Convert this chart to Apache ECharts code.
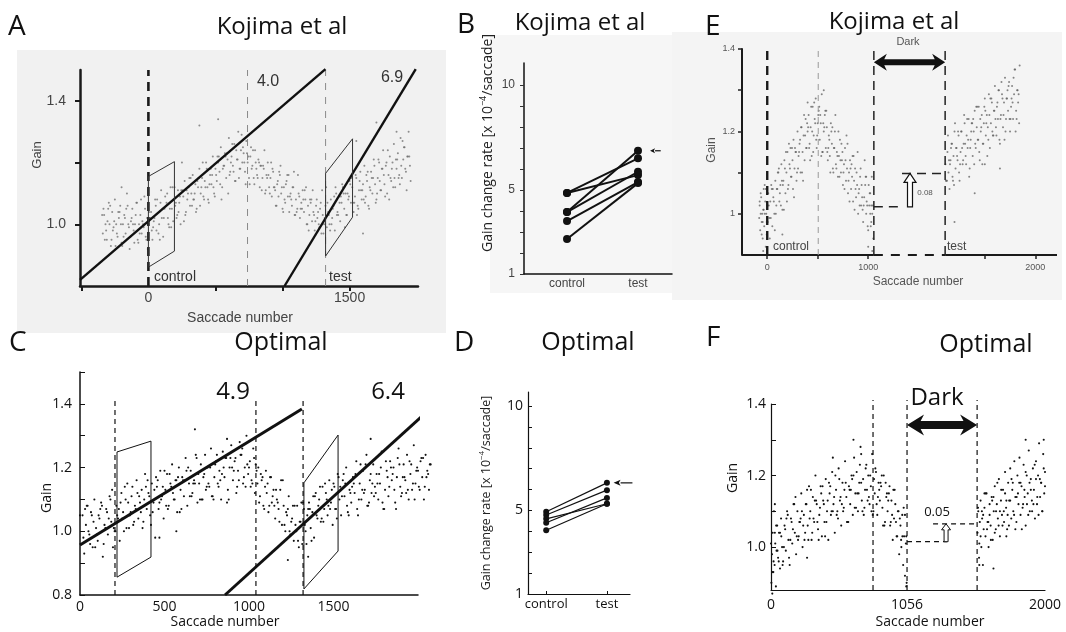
<!DOCTYPE html>
<html><head><meta charset="utf-8">
<script src="https://cdn.jsdelivr.net/npm/echarts@6/dist/echarts.min.js"></script>
<style>html,body{margin:0;padding:0;background:#fff}#c{width:1066px;height:632px}</style>
</head><body><div id="c"></div>
<script>
// ---------------- DATA ----------------
// Panel A (Kojima et al): gain vs saccade number
const A_DOTS = [
[-340,0.97],[-330,1.03],[-320,1.0],[-310,0.95],[-300,1.05],[-290,1.0],[-280,0.93],[-270,1.04],[-260,0.99],[-250,1.08],
[-240,1.0],[-230,0.96],[-220,1.02],[-210,1.06],[-200,0.94],[-190,1.0],[-180,1.03],[-170,0.97],[-160,1.1],[-150,1.0],
[-140,0.92],[-130,1.01],[-120,1.05],[-110,0.98],[-100,1.0],[-90,1.07],[-80,0.95],[-70,1.0],[-60,1.03],[-50,0.97],
[-40,1.0],[-30,1.09],[-20,0.96],[-10,1.02],[0,1.0],[20,1.04],[30,0.95],[40,1.01],[50,1.08],[60,0.98],
[80,1.0],[90,1.07],[100,1.02],[110,0.96],[120,1.05],[140,1.1],[150,1.0],[160,1.05],[170,0.99],[180,1.12],
[200,1.06],[210,1.02],[220,1.11],[230,1.07],[240,1.0],[260,1.09],[270,1.14],[280,1.04],[290,1.08],[300,1.12],
[310,1.06],[320,1.1],[330,1.16],[340,1.08],[350,1.13],[360,1.05],[370,1.12],[380,1.18],[390,1.1],[400,1.15],
[410,1.09],[420,1.14],[430,1.2],[440,1.12],[450,1.07],[460,1.16],[470,1.13],[480,1.22],[490,1.1],[500,1.18],
[510,1.14],[520,1.2],[530,1.17],[540,1.25],[550,1.12],[560,1.19],[570,1.23],[580,1.15],[590,1.21],[600,1.28],
[610,1.17],[620,1.22],[630,1.19],[640,1.26],[650,1.14],[660,1.21],[670,1.3],[680,1.18],[690,1.24],[700,1.2],
[380,1.32],[250,1.2],[-200,1.12],[520,1.34],
[710,1.23],[720,1.17],[730,1.27],[740,1.2],[750,1.15],[760,1.22],[770,1.18],[780,1.24],[790,1.13],[800,1.2],
[810,1.16],[820,1.21],[830,1.12],[840,1.19],[850,1.15],[860,1.18],[870,1.1],[880,1.16],[890,1.2],[900,1.12],
[910,1.15],[920,1.09],[930,1.17],[940,1.12],[950,1.06],[960,1.13],[970,1.09],[980,1.16],[990,1.1],[1000,1.05],
[1010,1.12],[1020,1.07],[1030,1.14],[1040,1.09],[1050,1.04],[1060,1.1],[1070,1.06],[1080,1.12],[1090,1.03],[1100,1.08],
[1110,1.05],[1120,1.1],[1130,1.02],[1140,1.07],[1150,1.11],[1160,1.04],[1170,1.08],[1180,1.0],[1190,1.06],[1200,1.03],
[1210,1.07],[1220,1.01],[1230,1.04],[1240,0.98],[1250,1.06],[1260,1.02],[1270,1.0],[1280,1.05],[1290,0.97],[1300,1.03],
[1310,1.0],[1320,1.06],[1330,0.99],[1340,1.04],[1350,1.0],[1360,1.08],[1370,1.02],[1380,1.06],[1390,0.98],[1400,1.1],
[1410,1.04],[1420,1.09],[1430,1.01],[1440,1.07],[1450,1.12],[1460,1.05],[1470,1.1],[1480,1.03],[1490,1.08],[1500,1.14],
[1510,1.07],[1520,1.12],[1530,1.04],[1540,1.09],[1550,1.15],[1560,1.06],[1570,1.11],[1580,1.17],[1590,1.08],[1600,1.13],
[1610,1.19],[1620,1.09],[1630,1.14],[1640,1.06],[1650,1.12],[1660,1.17],[1670,1.1],[1680,1.21],[1690,1.13],[1700,1.08],
[1710,1.15],[1720,1.2],[1730,1.11],[1740,1.18],[1750,1.24],[1760,1.13],[1770,1.19],[1780,1.1],[1790,1.16],[1800,1.22],
[1810,1.14],[1820,1.2],[1830,1.26],[1840,1.12],[1850,1.18],[1860,1.23],[1870,1.16],[1880,1.28],[1890,1.15],[1900,1.21],
[1910,1.25],[1920,1.17],[1930,1.22],[1940,1.3],[1950,1.19],[1700,1.33],[1850,1.3],[1600,0.97],[1550,1.27]
];
const A_DOTS2 = [
[-345,1.03],[-325,0.95],[-305,1.01],[-285,1.06],[-265,0.98],[-245,0.93],[-225,1.04],[-205,1.0],[-185,0.96],[-165,1.05],
[-145,0.99],[-125,1.02],[-105,0.94],[-85,1.07],[-65,0.97],[-45,1.01],[-25,1.05],[-5,0.92],[15,1.02],[35,0.99],
[55,1.06],[75,0.97],[95,1.11],[115,1.02],[135,1.07],[155,0.99],[175,1.05],[195,1.12],[215,1.03],[235,1.09],
[255,1.11],[275,1.03],[295,1.1],[315,1.15],[335,1.08],[355,1.04],[375,1.15],[395,1.12],[415,1.08],[435,1.18],
[455,1.13],[475,1.16],[495,1.09],[515,1.22],[535,1.13],[555,1.18],[575,1.22],[595,1.1],[615,1.2],[635,1.17],
[655,1.24],[675,1.15],[695,1.29],[715,1.2],[735,1.23],[755,1.13],[775,1.19],[795,1.24],[815,1.15],[835,1.19],
[855,1.19],[875,1.11],[895,1.16],[915,1.2],[935,1.12],[955,1.06],[975,1.17],[995,1.12],[1015,1.08],[1035,1.16],
[1055,1.09],[1075,1.12],[1095,1.03],[1115,1.16],[1135,1.05],[1155,1.08],[1175,1.12],[1195,0.98],[1215,1.08],[1235,1.03],
[1255,1.08],[1275,0.99],[1295,1.11],[1315,1.02],[1335,1.07],[1355,0.98],[1375,1.05],[1395,1.12],[1415,1.03],[1435,1.09],
[1455,1.1],[1475,1.03],[1495,1.09],[1515,1.15],[1535,1.07],[1555,1.03],[1575,1.14],[1595,1.11],[1615,1.07],[1635,1.17],
[1655,1.11],[1675,1.15],[1695,1.07],[1715,1.21],[1735,1.11],[1755,1.16],[1775,1.2],[1795,1.08],[1815,1.18],[1835,1.15],
[1855,1.21],[1875,1.13],[1895,1.27],[1915,1.18],[1935,1.22],[1955,1.14]
];
const A_DOTS3 = [
[-335,1.05],[-315,0.98],[-295,1.07],[-275,0.95],[-255,1.01],[-235,0.97],[-215,1.04],[-195,0.93],[-175,1.02],[-155,1.06],
[-135,0.96],[-115,1.0],[-95,1.03],[-75,0.94],[-55,1.08],[-35,0.99],[-15,0.95],[5,1.04],[25,0.98],[45,1.02],
[65,1.08],[85,0.95],[105,1.05],[125,1.09],[145,1.02],[165,1.12],[185,1.01],[205,1.07],[225,1.04],[245,1.11],
[265,1.01],[285,1.11],[305,1.15],[325,1.06],[345,1.1],[365,1.14],[385,1.06],[405,1.2],[425,1.12],[445,1.08],
[465,1.18],[485,1.12],[505,1.16],[525,1.22],[545,1.08],[565,1.19],[585,1.23],[605,1.16],[625,1.26],[645,1.14],
[665,1.21],[685,1.18],[705,1.25],[725,1.13],[745,1.22],[765,1.25],[785,1.15],[805,1.18],[825,1.2],[845,1.11],
[865,1.24],[885,1.15],[905,1.1],[925,1.18],[945,1.11],[965,1.14],[985,1.19],[1005,1.04],[1025,1.13],[1045,1.16],
[1065,1.08],[1085,1.17],[1105,1.04],[1125,1.09],[1145,1.05],[1165,1.11],[1185,1.0],[1205,1.08],[1225,1.11],[1245,1.01],
[1265,1.04],[1285,1.07],[1305,0.97],[1325,1.12],[1345,1.03],[1365,1.0],[1385,1.09],[1405,1.03],[1425,1.07],[1445,1.13],
[1465,0.99],[1485,1.1],[1505,1.13],[1525,1.07],[1545,1.16],[1565,1.05],[1585,1.11],[1605,1.08],[1625,1.16],[1645,1.05],
[1665,1.15],[1685,1.19],[1705,1.1],[1725,1.14],[1745,1.18],[1765,1.09],[1785,1.24],[1805,1.15],[1825,1.12],[1845,1.21],
[1865,1.15],[1885,1.19],[1905,1.25],[1925,1.11],[1945,1.22]
];
const A_FIT_LINES = [[[-510,0.82],[1320,1.503]], [[1015,0.8],[1993,1.503]]];
const A_BOXES = [[[0,0.861],[0,1.155],[194,1.203],[194,0.913],[0,0.861]],
                 [[1321,0.897],[1321,1.165],[1522,1.277],[1522,1.023],[1321,0.897]]];
const A_THIN_DASH = [739, 1321];
const A_X_LABELS = [0, 1500];
const A_Y_LABELS = [1.0, 1.4];

// Panel B (Kojima et al): gain change rate, control vs test
const B_CONTROL = [4.86, 4.86, 3.95, 3.95, 3.52, 2.67];
const B_TEST    = [6.51, 5.71, 6.87, 5.87, 5.38, 5.33];
const B_Y_LABELS = [1, 5, 10];
const CATS = ['control', 'test'];

// Panel C (Optimal)
const C_DOTS = [
[5,0.96],[15,1.05],[25,0.93],[35,1.02],[45,1.08],[55,0.99],[65,1.06],[75,0.95],[85,1.1],[95,1.01],
[105,0.97],[115,1.04],[125,1.09],[135,0.92],[145,1.02],[155,1.07],[165,0.99],[175,1.11],[185,1.03],[195,0.95],
[205,1.0],[215,1.08],[225,1.04],[235,0.97],[245,1.12],[255,1.06],[265,1.14],[275,1.01],[285,1.09],[295,1.05],
[305,1.11],[315,1.02],[325,1.08],[335,1.16],[345,1.04],[355,1.09],[365,1.13],[375,1.03],[385,1.18],[395,1.07],
[405,1.12],[415,1.05],[425,1.15],[435,1.09],[445,0.98],[455,1.14],[465,1.07],[475,1.19],[485,1.11],[495,1.04],
[505,1.13],[515,1.18],[525,1.08],[535,1.15],[545,1.21],[555,1.1],[565,1.16],[575,1.06],[585,1.2],[595,1.13],
[605,1.17],[615,1.11],[625,1.23],[635,1.08],[645,1.15],[655,1.19],[665,1.12],[675,1.16],[685,1.24],[695,1.09],
[705,1.15],[715,1.21],[725,1.1],[735,1.18],[745,1.13],[755,1.2],[765,1.14],[775,1.26],[785,1.11],[795,1.17],
[805,1.22],[815,1.15],[825,1.19],[835,1.1],[845,1.25],[855,1.17],[865,1.23],[875,1.13],[885,1.2],[895,1.27],
[905,1.16],[915,1.22],[925,1.12],[935,1.19],[945,1.28],[955,1.24],[965,1.15],[975,1.2],[985,1.3],[995,1.18],
[1005,1.22],[1015,1.16],[1025,1.26],[1035,1.12],[1045,1.19],[1055,1.2],[1065,1.11],[1075,1.16],[1085,1.08],[1095,1.14],
[1105,1.12],[1115,1.06],[1125,1.17],[1135,1.09],[1145,1.13],[1155,1.04],[1165,1.1],[1175,1.07],[1185,1.13],[1195,1.02],
[1205,1.08],[1215,1.0],[1225,1.05],[1235,1.11],[1245,0.99],[1255,1.04],[1265,0.97],[1275,1.02],[1285,1.08],[1295,0.95],
[1305,1.03],[1315,0.96],[1325,1.07],[1335,1.0],[1345,1.05],[1355,1.09],[1365,1.01],[1375,1.06],[1385,0.98],[1395,1.12],
[1405,1.04],[1415,1.1],[1425,1.03],[1435,1.14],[1445,1.07],[1455,1.12],[1465,1.05],[1475,1.16],[1485,1.09],[1495,1.02],
[1505,1.14],[1515,1.07],[1525,1.18],[1535,1.1],[1545,1.05],[1555,1.16],[1565,1.11],[1575,1.2],[1585,1.06],[1595,1.13],
[1605,1.09],[1615,1.17],[1625,1.12],[1635,1.22],[1645,1.05],[1655,1.15],[1665,1.1],[1675,1.19],[1685,1.13],[1695,1.24],
[1705,1.08],[1715,1.16],[1725,1.12],[1735,1.21],[1745,1.14],[1755,1.18],[1765,1.1],[1775,1.15],[1785,1.25],[1795,1.07],
[1805,1.13],[1815,1.19],[1825,1.11],[1835,1.22],[1845,1.16],[1855,1.2],[1865,1.09],[1875,1.17],[1885,1.26],[1895,1.14],
[1905,1.12],[1915,1.21],[1925,1.16],[1935,1.24],[1945,1.1],[1955,1.18],[1965,1.13],[1975,1.27],[1985,1.15],[1995,1.2],
[2005,1.14],[2015,1.22],[2025,1.17],[2035,1.1],[2045,1.24],[2055,1.19],[2065,1.13],[2075,1.21],
[680,1.32],[870,1.29],[470,0.98],[570,1.0],[1230,0.91],[1350,0.92],[1720,1.29]
];
const C_DOTS2 = [
[10,0.96],[30,1.07],[50,1.0],[70,1.05],[90,0.95],[110,1.05],[130,1.08],[150,1.01],[170,1.04],[190,1.13],
[210,1.0],[230,1.07],[250,1.04],[270,1.1],[290,1.01],[310,1.14],[330,1.07],[350,1.11],[370,1.01],[390,1.14],
[410,1.11],[430,1.06],[450,1.17],[470,1.09],[490,1.14],[510,1.08],[530,1.18],[550,1.12],[570,1.16],[590,1.06],
[610,1.16],[630,1.19],[650,1.11],[670,1.15],[690,1.23],[710,1.1],[730,1.17],[750,1.14],[770,1.2],[790,1.1],
[810,1.24],[830,1.16],[850,1.2],[870,1.09],[890,1.23],[910,1.19],[930,1.14],[950,1.24],[970,1.17],[990,1.21],
[1010,1.14],[1030,1.23],[1050,1.15],[1070,1.18],[1090,1.07],[1110,1.15],[1130,1.17],[1150,1.08],[1170,1.09],[1190,1.16],
[1210,1.02],[1230,1.07],[1250,1.03],[1270,1.08],[1290,0.97],[1310,1.09],[1330,1.02],[1350,1.07],[1370,0.97],[1390,1.11],
[1410,1.08],[1430,1.04],[1450,1.15],[1470,1.08],[1490,1.13],[1510,1.07],[1530,1.17],[1550,1.11],[1570,1.15],[1590,1.05],
[1610,1.14],[1630,1.18],[1650,1.1],[1670,1.13],[1690,1.21],[1710,1.09],[1730,1.15],[1750,1.12],[1770,1.18],[1790,1.09],
[1810,1.22],[1830,1.14],[1850,1.18],[1870,1.07],[1890,1.21],[1910,1.17],[1930,1.12],[1950,1.22],[1970,1.15],[1990,1.19],
[2010,1.13],[2030,1.23],[2050,1.17],[2070,1.21]
];
const C_DOTS3 = [
[0,1.05],[20,0.98],[40,1.08],[60,0.96],[80,1.03],[100,0.99],[120,1.07],[140,0.96],[160,1.06],[180,1.1],
[200,1.01],[220,1.05],[240,1.09],[260,1.0],[280,1.15],[300,1.06],[320,1.03],[340,1.12],[360,1.06],[380,1.1],
[400,1.16],[420,1.02],[440,1.13],[460,1.16],[480,1.1],[500,1.19],[520,1.07],[540,1.14],[560,1.1],[580,1.17],
[600,1.07],[620,1.16],[640,1.2],[660,1.11],[680,1.15],[700,1.18],[720,1.1],[740,1.24],[760,1.15],[780,1.11],
[800,1.21],[820,1.14],[840,1.18],[860,1.23],[880,1.1],[900,1.2],[920,1.23],[940,1.16],[960,1.26],[980,1.14],
[1000,1.2],[1020,1.15],[1040,1.21],[1060,1.09],[1080,1.17],[1100,1.19],[1120,1.08],[1140,1.11],[1160,1.13],[1180,1.03],
[1200,1.16],[1220,1.06],[1240,1.0],[1260,1.08],[1280,1.0],[1300,1.03],[1320,1.09],[1340,0.96],[1360,1.07],[1380,1.11],
[1400,1.05],[1420,1.14],[1440,1.03],[1460,1.1],[1480,1.07],[1500,1.15],[1520,1.04],[1540,1.14],[1560,1.18],[1580,1.08],
[1600,1.12],[1620,1.15],[1640,1.07],[1660,1.21],[1680,1.12],[1700,1.08],[1720,1.18],[1740,1.11],[1760,1.15],[1780,1.2],
[1800,1.07],[1820,1.17],[1840,1.2],[1860,1.13],[1880,1.23],[1900,1.11],[1920,1.17],[1940,1.13],[1960,1.21],[1980,1.1],
[2000,1.19],[2020,1.23],[2040,1.14],[2060,1.18]
];
const C_FIT_LINES = [[[0,0.957],[1313,1.384]], [[858,0.8],[2071,1.384]]];
const C_BOXES = [[[219,0.856],[219,1.249],[420,1.283],[420,0.919],[219,0.856]],
                 [[1325,0.819],[1325,1.152],[1527,1.302],[1527,0.938],[1325,0.819]]];
const C_DASH = [207, 1041, 1320];
const C_X_LABELS = [0, 500, 1000, 1500];
const C_Y_LABELS = [0.8, 1.0, 1.2, 1.4];

// Panel D (Optimal)
const D_CONTROL = [4.94, 4.78, 4.60, 4.41, 4.05];
const D_TEST    = [6.32, 5.97, 5.32, 5.60, 5.32];

// Panel E (Kojima et al) – dark period inserted; post-dark saccades shifted by E_GAP on the plot axis
const E_GAP = 655;
const E_PRE = [
[-80,0.99],[-75,1.02],[-70,0.96],[-65,1.0],[-60,1.04],[-55,0.98],[-50,1.0],[-45,0.94],[-40,1.01],[-35,1.06],[-30,0.97],[-25,1.0],[-20,1.03],[-15,0.92],[-10,1.0],[-5,0.98],[0,1.02],
[10,1.05],[20,0.99],[30,1.03],[40,1.07],[50,0.97],[60,1.04],[70,1.0],[80,1.08],[90,1.02],[100,1.06],
[110,1.1],[120,1.03],[130,1.07],[140,1.12],[150,1.01],[160,1.08],[170,1.13],[180,1.05],[190,1.1],[200,1.15],
[210,1.07],[220,1.12],[230,1.16],[240,1.09],[250,1.13],[260,1.18],[270,1.11],[280,1.15],[290,1.08],[300,1.2],
[310,1.14],[320,1.17],[330,1.1],[340,1.21],[350,1.15],[360,1.19],[370,1.13],[380,1.23],[390,1.16],[400,1.2],
[410,1.24],[420,1.17],[430,1.21],[440,1.14],[450,1.26],[460,1.19],[470,1.23],[480,1.28],[490,1.16],[500,1.22],
[510,1.25],[520,1.18],[530,1.22],[540,1.29],[550,1.15],[560,1.2],[570,1.24],[580,1.16],[590,1.21],[600,1.13],
[610,1.19],[620,1.14],[630,1.22],[640,1.17],[650,1.11],[660,1.16],[670,1.2],[680,1.12],[690,1.15],[700,1.09],
[710,1.14],[720,1.18],[730,1.1],[740,1.13],[750,1.07],[760,1.12],[770,1.16],[780,1.08],[790,1.11],[800,1.05],
[810,1.1],[820,1.13],[830,1.06],[840,1.09],[850,1.03],[860,1.08],[870,1.11],[880,1.04],[890,1.07],[900,1.0],
[910,1.06],[920,1.09],[930,1.02],[940,1.04],[950,0.98],[960,1.04],[970,1.07],[980,1.0],[990,1.02],[1000,0.96],
[1010,1.02],[1020,1.05],[1030,0.98],[1040,1.0],[1050,0.94],
[1000,0.92],[1040,0.91],[560,1.3],[400,1.27],[980,1.09],[150,0.95],[-40,0.91],[1030,1.02],[1020,1.0],
[-75,1.03],[-55,0.95],[-35,1.01],[-15,1.06],[5,0.98],[25,0.94],[45,1.06],[65,1.03],[85,1.0],[105,1.1],
[125,1.05],[145,1.08],[165,1.01],[185,1.15],[205,1.06],[225,1.11],[245,1.16],[265,1.04],[285,1.15],[305,1.11],
[325,1.18],[345,1.1],[365,1.24],[385,1.16],[405,1.21],[425,1.13],[445,1.2],[465,1.27],[485,1.18],[505,1.24],
[525,1.24],[545,1.15],[565,1.21],[585,1.25],[605,1.16],[625,1.1],[645,1.21],[665,1.16],[685,1.11],[705,1.2],
[725,1.13],[745,1.15],[765,1.06],[785,1.19],[805,1.08],[825,1.11],[845,1.14],[865,1.01],[885,1.1],[905,1.05],
[925,1.11],[945,1.01],[965,1.13],[985,1.03],[1005,1.07],[1025,0.97],[1045,1.02],
[-65,1.05],[-45,0.98],[-25,1.07],[-5,0.95],[15,1.02],[35,0.99],[55,1.06],[75,0.96],[95,1.06],[115,1.11],
[135,1.02],[155,1.07],[175,1.11],[195,1.03],[215,1.17],[235,1.09],[255,1.06],[275,1.16],[295,1.1],[315,1.15],
[335,1.21],[355,1.08],[375,1.19],[395,1.22],[415,1.16],[435,1.26],[455,1.15],[475,1.22],[495,1.19],[515,1.26],
[535,1.14],[555,1.22],[575,1.25],[595,1.15],[615,1.18],[635,1.2],[655,1.1],[675,1.24],[695,1.14],[715,1.09],
[735,1.17],[755,1.1],[775,1.13],[795,1.17],[815,1.03],[835,1.12],[855,1.14],[875,1.06],[895,1.15],[915,1.02],
[935,1.07],[955,1.02],[975,1.09],[995,0.97],[1015,1.05],[1035,1.09]
];
const E_POST = [
[1110,1.12],[1120,1.08],[1130,1.15],[1140,1.1],[1150,1.06],[1160,1.13],[1170,1.17],[1180,1.09],[1190,1.14],[1200,1.2],
[1210,1.11],[1220,1.16],[1230,1.13],[1240,1.19],[1250,1.08],[1260,1.15],[1270,1.2],[1280,1.12],[1290,1.17],[1300,1.22],
[1310,1.14],[1320,1.19],[1330,1.16],[1340,1.23],[1350,1.11],[1360,1.18],[1370,1.22],[1380,1.14],[1390,1.2],[1400,1.25],
[1410,1.16],[1420,1.21],[1430,1.18],[1440,1.26],[1450,1.13],[1460,1.2],[1470,1.24],[1480,1.17],[1490,1.22],[1500,1.28],
[1510,1.19],[1520,1.24],[1530,1.21],[1540,1.29],[1550,1.16],[1560,1.22],[1570,1.27],[1580,1.19],[1590,1.25],[1600,1.31],
[1610,1.21],[1620,1.26],[1630,1.23],[1640,1.3],[1650,1.17],[1660,1.24],[1670,1.29],[1680,1.21],[1690,1.27],[1700,1.33],
[1710,1.23],[1720,1.28],[1730,1.25],[1740,1.32],[1750,1.2],[1760,1.26],[1770,1.31],[1780,1.23],[1790,1.29],[1800,1.35],
[1810,1.25],[1820,1.3],[1830,1.27],[1840,1.22],[1845,1.36],
[1500,1.12],[1650,1.11],[1400,1.05],[1200,0.98],
[1115,1.08],[1135,1.19],[1155,1.12],[1175,1.17],[1195,1.07],[1215,1.16],[1235,1.2],[1255,1.12],[1275,1.16],[1295,1.24],
[1315,1.12],[1335,1.18],[1355,1.16],[1375,1.22],[1395,1.12],[1415,1.26],[1435,1.18],[1455,1.23],[1475,1.12],[1495,1.26],
[1515,1.22],[1535,1.18],[1555,1.28],[1575,1.2],[1595,1.25],[1615,1.19],[1635,1.3],[1655,1.23],[1675,1.28],[1695,1.18],
[1715,1.28],[1735,1.31],[1755,1.23],[1775,1.27],[1795,1.35],[1815,1.23],[1835,1.29],
[1125,1.08],[1145,1.13],[1165,1.16],[1185,1.08],[1205,1.22],[1225,1.14],[1245,1.1],[1265,1.2],[1285,1.13],[1305,1.17],
[1325,1.23],[1345,1.09],[1365,1.2],[1385,1.23],[1405,1.17],[1425,1.26],[1445,1.15],[1465,1.21],[1485,1.17],[1505,1.25],
[1525,1.14],[1545,1.24],[1565,1.28],[1585,1.19],[1605,1.23],[1625,1.27],[1645,1.18],[1665,1.32],[1685,1.24],[1705,1.2],
[1725,1.3],[1745,1.23],[1765,1.28],[1785,1.33],[1805,1.2],[1825,1.3]
];
const E_DARK = [1056, 1107 + E_GAP];   // plot positions of dark-period borders
const E_X_LABELS = [0, 1000, 2000];
const E_Y_LABELS = [1, 1.2, 1.4];

// Panel F (Optimal) – post-dark saccades shifted by F_GAP on the plot axis
const F_GAP = 127;
const F_PRE = [
[3,0.9],[8,0.98],[13,1.04],[18,0.93],[23,1.1],[28,0.95],[33,1.01],[38,0.89],[43,0.99],[48,1.06],
[55,0.97],[62,1.04],[70,0.94],[78,1.08],[86,1.0],[94,0.96],[105,1.06],[115,0.99],[125,1.1],[135,1.02],[145,0.95],
[155,1.08],[165,1.01],[175,1.12],[185,1.04],[195,0.98],[205,1.1],[215,1.03],[225,1.07],[235,1.15],[245,1.0],
[255,1.09],[265,1.04],[275,1.12],[285,1.06],[295,1.17],[305,1.1],[315,1.02],[325,1.14],[335,1.07],[345,1.2],
[355,1.12],[365,1.05],[375,1.09],[385,1.17],[395,1.03],[405,1.13],[415,1.07],[425,1.19],[435,1.1],[445,1.02],
[455,1.15],[465,1.09],[475,1.21],[485,1.12],[495,1.04],[505,1.16],[515,1.1],[525,1.22],[535,1.13],[545,1.06],
[555,1.18],[565,1.11],[575,1.24],[585,1.14],[595,1.07],[605,1.17],[615,1.12],[625,1.2],[635,1.09],[645,1.25],
[655,1.15],[665,1.21],[675,1.1],[685,1.18],[695,1.28],[705,1.13],[715,1.19],[725,1.11],[735,1.22],[745,1.16],
[755,1.2],[765,1.12],[775,1.17],[785,1.26],[795,1.1],[805,1.15],[815,1.21],[825,1.09],[835,1.18],[845,1.13],
[855,1.17],[865,1.11],[875,1.2],[885,1.07],[895,1.14],[905,1.1],[915,1.15],[925,1.06],[935,1.13],[945,1.02],
[955,1.08],[965,1.12],[975,1.03],[985,1.1],[995,0.98],[1005,1.06],[1012,1.0],[1019,1.09],[1026,0.95],[1033,1.03],
[1040,0.92],[1047,1.01],[1053,0.9],
[640,1.3],[700,1.26],[10,0.87],[1050,0.89],[30,1.12],[280,0.97],[480,1.25],
[10,0.93],[30,1.04],[50,0.99],[70,1.04],[90,0.95],[110,1.05],[130,1.09],[150,1.02],[170,1.05],[190,1.14],
[210,1.02],[230,1.08],[250,1.06],[270,1.12],[290,1.02],[310,1.16],[330,1.08],[350,1.13],[370,1.02],[390,1.15],
[410,1.12],[430,1.07],[450,1.18],[470,1.1],[490,1.14],[510,1.09],[530,1.19],[550,1.12],[570,1.16],[590,1.07],
[610,1.16],[630,1.19],[650,1.11],[670,1.15],[690,1.23],[710,1.1],[730,1.16],[750,1.13],[770,1.2],[790,1.09],
[810,1.22],[830,1.14],[850,1.18],[870,1.06],[890,1.18],[910,1.13],[930,1.07],[950,1.16],[970,1.07],[990,1.1],
[1010,1.02],[1030,1.11],[1050,1.03],
[0,1.01],[20,0.96],[40,1.06],[60,0.96],[80,1.03],[100,1.0],[120,1.08],[140,0.97],[160,1.07],[180,1.12],
[200,1.03],[220,1.07],[240,1.1],[260,1.02],[280,1.16],[300,1.08],[320,1.04],[340,1.13],[360,1.07],[380,1.11],
[400,1.17],[420,1.03],[440,1.13],[460,1.17],[480,1.1],[500,1.2],[520,1.08],[540,1.14],[560,1.1],[580,1.18],
[600,1.07],[620,1.16],[640,1.2],[660,1.11],[680,1.15],[700,1.18],[720,1.09],[740,1.23],[760,1.14],[780,1.1],
[800,1.19],[820,1.12],[840,1.16],[860,1.2],[880,1.06],[900,1.15],[920,1.17],[940,1.09],[960,1.16],[980,1.03],
[1000,1.08],[1020,1.03],[1040,1.09]
];
const F_POST = [
[1476,1.04],[1482,1.1],[1488,0.97],[1494,1.07],[1500,1.13],[1506,1.0],[1512,1.08],[1518,0.95],[1524,1.05],
[1530,1.11],[1538,1.03],[1546,1.15],[1554,1.07],[1562,1.0],[1570,1.12],[1578,1.06],[1586,1.14],[1594,1.02],[1602,1.1],
[1610,1.17],[1618,1.05],[1626,1.12],[1634,1.08],[1642,1.19],[1650,1.03],[1658,1.13],[1666,1.09],[1674,1.16],[1682,1.07],
[1690,1.21],[1698,1.11],[1706,1.05],[1714,1.18],[1722,1.13],[1730,1.22],[1738,1.08],[1746,1.16],[1754,1.1],[1762,1.24],
[1770,1.14],[1778,1.07],[1786,1.2],[1794,1.12],[1802,1.25],[1810,1.09],[1818,1.17],[1826,1.11],[1834,1.23],[1842,1.14],
[1850,1.06],[1858,1.2],[1866,1.15],[1874,1.27],[1882,1.1],[1890,1.19],[1898,1.13],[1906,1.22],[1914,1.16],[1922,1.08],
[1930,1.24],[1938,1.12],[1946,1.2],[1954,1.29],[1962,1.14],[1970,1.18],[1978,1.1],[1986,1.26],[1994,1.15],[2000,1.21],
[1490,0.95],[1600,0.94],[1850,1.3],[1990,1.3],[1700,1.03],
[1480,1.11],[1500,1.03],[1520,1.09],[1540,1.15],[1560,1.07],[1580,1.02],[1600,1.14],[1620,1.1],[1640,1.06],[1660,1.16],
[1680,1.1],[1700,1.13],[1720,1.06],[1740,1.19],[1760,1.09],[1780,1.14],[1800,1.18],[1820,1.05],[1840,1.16],[1860,1.12],
[1880,1.18],[1900,1.1],[1920,1.23],[1940,1.14],[1960,1.19],[1980,1.1],[2000,1.17],
[1490,1.01],[1510,1.1],[1530,1.15],[1550,1.05],[1570,1.09],[1590,1.13],[1610,1.04],[1630,1.18],[1650,1.1],[1670,1.06],
[1690,1.15],[1710,1.09],[1730,1.13],[1750,1.18],[1770,1.05],[1790,1.15],[1810,1.18],[1830,1.12],[1850,1.21],[1870,1.09],
[1890,1.16],[1910,1.12],[1930,1.19],[1950,1.09],[1970,1.18],[1990,1.22]
];
const F_DASH = [792, 1056, 1473 + F_GAP];
const F_X_LABELS = [0, 1056, 2000];
const F_Y_LABELS = [1.0, 1.2, 1.4];

// ---------------- CHART ----------------
const HF = 'Liberation Sans, Arial, sans-serif';
const MF = 'Open Sans, Noto Sans, sans-serif';
const chart = echarts.init(document.getElementById('c'), null, {renderer: 'canvas'});

function grid(l, t, w, h) { return {left: l, top: t, width: w, height: h, containLabel: false}; }
function axis(g, o) {
  return Object.assign({
    gridIndex: g, type: 'value', splitLine: {show: false},
    axisLine: {show: true, onZero: false, lineStyle: {color: '#111', width: 1.5}},
    axisTick: {show: false}, axisLabel: {show: true}
  }, o);
}
const seg = (g, pts, st, z) => ({type: 'line', xAxisIndex: g, yAxisIndex: g, data: pts, symbol: 'none',
  silent: true, clip: false, lineStyle: st, z: z || 3, animation: false});
const dots = (g, pts, color, size, op) => ({type: 'scatter', xAxisIndex: g, yAxisIndex: g, data: pts,
  symbolSize: size, itemStyle: {color: color, opacity: op || 1}, silent: true, clip: false, z: 2, animation: false});
function arrows(g, items, kind, o) {
  return {type: 'custom', xAxisIndex: g, yAxisIndex: g, data: items, clip: false, silent: true, z: 5, animation: false,
    renderItem: function (params, api) {
      const p1 = api.coord([api.value(0), api.value(1)]);
      const p2 = api.coord([api.value(2), api.value(3)]);
      const dx = p2[0] - p1[0], dy = p2[1] - p1[1], L = Math.hypot(dx, dy);
      const ux = dx / L, uy = dy / L, nx = -uy, ny = ux;
      const pt = (b, a, c) => [b[0] + ux * a + nx * c, b[1] + uy * a + ny * c];
      const sw = o.shaft / 2, hw = o.head / 2, hl = o.len;
      if (kind === 'double') {
        return {type: 'polygon', shape: {points: [p1, pt(p1, hl, hw), pt(p1, hl * 0.8, sw), pt(p2, -hl * 0.8, sw), pt(p2, -hl, hw), p2,
          pt(p2, -hl, -hw), pt(p2, -hl * 0.8, -sw), pt(p1, hl * 0.8, -sw), pt(p1, hl, -hw)]}, style: {fill: '#111'}};
      }
      if (kind === 'hollow') {
        return {type: 'polygon', shape: {points: [pt(p1, 0, sw), pt(p2, -hl, sw), pt(p2, -hl, hw), p2, pt(p2, -hl, -hw),
          pt(p2, -hl, -sw), pt(p1, 0, -sw)]}, style: {fill: '#fff', stroke: '#111', lineWidth: o.lw || 1}};
      }
      const hb = pt(p2, -hl, 0);
      return {type: 'group', children: [
        {type: 'line', shape: {x1: p1[0], y1: p1[1], x2: hb[0], y2: hb[1]}, style: {stroke: '#111', lineWidth: o.lw || 1}},
        {type: 'polygon', shape: {points: [p2, pt(p2, -hl, hw), pt(p2, -hl * 0.75, 0), pt(p2, -hl, -hw)]}, style: {fill: '#111'}}
      ]};
    }};
}
function T(text, x, y, size, o) {
  o = o || {};
  return {type: 'text', x: x, y: y, rotation: o.rot || 0, z: 100,
    style: {text: text, fontSize: size, fontFamily: o.font || MF, fill: o.color || '#111',
      textAlign: o.align || 'center', textVerticalAlign: 'middle', align: o.align || 'center', verticalAlign: 'middle',
      rich: o.rich}};
}
const lbl = (vals, o) => Object.assign({show: true, customValues: vals}, o);
const tk = (vals, o) => Object.assign({show: true, customValues: vals}, o);
const oneDec = v => v.toFixed(1);
const plain = v => String(v);

const grids = [grid(80, 70, 338, 216), grid(524, 63, 148, 211), grid(80, 372, 338, 223),
               grid(528, 392, 102, 202), grid(742, 49, 315, 206), grid(771, 404, 274, 186)];

const xAxes = [
  axis(0, {min: -510, max: 2010, axisLine: {onZero: false, lineStyle: {color: '#1a1a1a', width: 2.5}},
    axisTick: tk([-500, 500, 1000, 1500], {length: 5, lineStyle: {width: 2, color: '#1a1a1a'}}),
    axisLabel: lbl(A_X_LABELS, {margin: 5, fontSize: 14, color: '#444', fontFamily: HF, formatter: plain})}),
  axis(1, {min: 0.394, max: 2.479, axisLabel: lbl([1, 2], {margin: 4, fontSize: 12, color: '#444', fontFamily: HF,
    formatter: v => CATS[Math.round(v) - 1]})}),
  axis(2, {min: 0, max: 2000, axisLabel: lbl(C_X_LABELS, {margin: 5, fontSize: 14, color: '#111', fontFamily: MF, formatter: plain})}),
  axis(3, {min: 0.70, max: 2.38, axisLine: {onZero: false, lineStyle: {color: '#111', width: 1.2}},
    axisTick: tk([1, 2], {inside: true, length: 3, lineStyle: {color: '#111'}}),
    axisLabel: lbl([1, 2], {margin: 4, fontSize: 13, color: '#111', fontFamily: MF, formatter: v => CATS[Math.round(v) - 1]})}),
  axis(4, {min: -250, max: 2870, axisLine: {show: false},
    axisTick: tk([0, 500, 1000, 1500 + E_GAP, 2000 + E_GAP], {length: 4, lineStyle: {width: 1.5, color: '#222'}}),
    axisLabel: lbl(E_X_LABELS.map(v => v > 1056 ? v + E_GAP : v), {margin: 8, fontSize: 9, color: '#555', fontFamily: HF,
      formatter: v => String(v > E_DARK[1] ? v - E_GAP : v)})}),
  axis(5, {min: 0, max: 2127, axisLine: {onZero: false, lineStyle: {color: '#111', width: 1.2}},
    axisLabel: lbl(F_X_LABELS.map(v => v > 1056 ? v + F_GAP : v), {margin: 8, fontSize: 14, color: '#111', fontFamily: MF,
      formatter: v => String(v > F_DASH[2] ? v - F_GAP : v)})})
];
const yAxes = [
  axis(0, {min: 0.8, max: 1.5, axisLine: {onZero: false, lineStyle: {color: '#1a1a1a', width: 2.5}},
    axisTick: tk([1.0, 1.2, 1.4], {length: 5, lineStyle: {width: 2, color: '#1a1a1a'}}),
    axisLabel: lbl(A_Y_LABELS, {margin: 14, fontSize: 14, color: '#444', fontFamily: HF, formatter: oneDec})}),
  axis(1, {min: 1, max: 11.05, axisTick: tk([1, 2, 3, 4, 5, 6, 7, 8, 9, 10], {length: 4, lineStyle: {color: '#333'}}),
    axisLabel: lbl(B_Y_LABELS, {margin: 9, fontSize: 12, color: '#444', fontFamily: HF})}),
  axis(2, {min: 0.8, max: 1.5, interval: 0.1, axisTick: {show: true, inside: true, length: 5, lineStyle: {color: '#111'}},
    axisLabel: lbl(C_Y_LABELS, {margin: 8, fontSize: 14, color: '#111', fontFamily: MF, formatter: oneDec})}),
  axis(3, {min: 1, max: 10.67, axisLine: {onZero: false, lineStyle: {color: '#111', width: 1.2}},
    axisTick: tk([1, 2, 3, 4, 5, 6, 7, 8, 9, 10], {inside: true, length: 4, lineStyle: {color: '#111'}}),
    axisLabel: lbl(B_Y_LABELS, {margin: 5, fontSize: 14, color: '#111', fontFamily: MF})}),
  axis(4, {min: 0.9, max: 1.4, axisLine: {onZero: false, lineStyle: {color: '#1a1a1a', width: 2}},
    axisTick: tk([1.0, 1.1, 1.2, 1.3, 1.4], {length: 4, lineStyle: {width: 1.5, color: '#222'}}),
    axisLabel: lbl(E_Y_LABELS, {margin: 7, fontSize: 9, color: '#555', fontFamily: HF, formatter: v => v === 1 ? '1' : oneDec(v)})}),
  axis(5, {min: 0.88, max: 1.4, axisLine: {onZero: false, lineStyle: {color: '#111', width: 1.2}},
    axisTick: tk([1.0, 1.1, 1.2, 1.3, 1.4], {inside: true, length: 5, lineStyle: {color: '#111'}}),
    axisLabel: lbl(F_Y_LABELS, {margin: 5, fontSize: 14, color: '#111', fontFamily: MF, formatter: oneDec})})
];

const series = [];
// ---- A ----
[A_DOTS, A_DOTS2, A_DOTS3].forEach(d => series.push(dots(0, d, '#6b6b6b', 2, 0.75)));
series.push(seg(0, [[0, 0.8], [0, 1.5]], {color: '#1a1a1a', width: 2.6, type: [9, 6]}));
A_THIN_DASH.forEach(x => series.push(seg(0, [[x, 0.8], [x, 1.5]], {color: '#8a8a8a', width: 1, type: [7, 7]})));
A_FIT_LINES.forEach(l => series.push(seg(0, l, {color: '#111', width: 2.4}, 4)));
A_BOXES.forEach(b => series.push(seg(0, b, {color: '#333', width: 1}, 4)));
// ---- B ----
B_CONTROL.forEach((c, i) => series.push({type: 'line', xAxisIndex: 1, yAxisIndex: 1, data: [[1, c], [2, B_TEST[i]]],
  symbol: 'circle', symbolSize: 8, itemStyle: {color: '#111'}, lineStyle: {color: '#111', width: 2}, silent: true, animation: false}));
series.push(arrows(1, [[2.32, B_TEST[2], 2.17, B_TEST[2]]], 'thin', {shaft: 1, head: 5, len: 5, lw: 1.2}));
// ---- C ----
[C_DOTS, C_DOTS2, C_DOTS3].forEach(d => series.push(dots(2, d, '#111', 2.1)));
C_DASH.forEach(x => series.push(seg(2, [[x, 0.8], [x, 1.415]], {color: '#111', width: 1.2, type: [5, 4]})));
C_FIT_LINES.forEach(l => series.push(seg(2, l, {color: '#111', width: 3}, 4)));
C_BOXES.forEach(b => series.push(seg(2, b, {color: '#111', width: 1}, 4)));
// ---- D ----
D_CONTROL.forEach((c, i) => series.push({type: 'line', xAxisIndex: 3, yAxisIndex: 3, data: [[1, c], [2, D_TEST[i]]],
  symbol: 'circle', symbolSize: 6, itemStyle: {color: '#111'}, lineStyle: {color: '#111', width: 1.2}, silent: true, animation: false}));
series.push(arrows(3, [[2.42, D_TEST[0], 2.11, D_TEST[0]]], 'thin', {shaft: 1, head: 6, len: 7, lw: 1.2}));
// ---- E ----
series.push(dots(4, E_PRE, '#5f5f5f', 2, 0.75));
series.push(dots(4, E_POST.map(p => [p[0] + E_GAP, p[1]]), '#5f5f5f', 2, 0.75));
series.push(seg(4, [[-250, 0.9], [E_DARK[0], 0.9]], {color: '#1a1a1a', width: 2}));
series.push(seg(4, [[E_DARK[0], 0.9], [E_DARK[1], 0.9]], {color: '#1a1a1a', width: 2, type: [9, 8]}));
series.push(seg(4, [[E_DARK[1], 0.9], [2870, 0.9]], {color: '#1a1a1a', width: 2}));
series.push(seg(4, [[0, 0.9], [0, 1.4]], {color: '#1a1a1a', width: 2.4, type: [9, 6]}));
series.push(seg(4, [[505, 0.9], [505, 1.4]], {color: '#999', width: 1, type: [6, 5]}));
E_DARK.forEach(x => series.push(seg(4, [[x, 0.9], [x, 1.4]], {color: '#222', width: 1.5, type: [9, 6]})));
series.push(seg(4, [[1335, 1.098], [E_DARK[1], 1.098]], {color: '#222', width: 1.5, type: [9, 6]}));
series.push(seg(4, [[E_DARK[0], 1.017], [1315, 1.017]], {color: '#222', width: 1.5, type: [9, 6]}));
series.push(arrows(4, [[E_DARK[0], 1.368, E_DARK[1], 1.368]], 'double', {shaft: 6, head: 17, len: 13}));
series.push(arrows(4, [[1414, 1.017, 1414, 1.098]], 'hollow', {shaft: 5, head: 12, len: 9, lw: 1.2}));
// ---- F ----
series.push(dots(5, F_PRE, '#111', 2.1));
series.push(dots(5, F_POST.map(p => [p[0] + F_GAP, p[1]]), '#111', 2.1));
F_DASH.forEach(x => series.push(seg(5, [[x, 0.88], [x, 1.411]], {color: '#111', width: 1.2, type: [5, 4]})));
series.push(seg(5, [[1056, 1.015], [1366, 1.015]], {color: '#111', width: 1.2, type: [5, 4]}));
series.push(seg(5, [[1258, 1.065], [F_DASH[2], 1.065]], {color: '#111', width: 1.2, type: [5, 4]}));
series.push(arrows(5, [[1056, 1.341, F_DASH[2], 1.341]], 'double', {shaft: 8, head: 21, len: 17}));
series.push(arrows(5, [[1359, 1.015, 1359, 1.065]], 'hollow', {shaft: 4, head: 9, len: 6, lw: 1}));

const SUP = {n: {fontSize: 14, fontFamily: MF, fill: '#222', lineHeight: 18}, s: {fontSize: 9, fontFamily: MF, fill: '#222', verticalAlign: 'top', lineHeight: 18}};
const SUP2 = {n: {fontSize: 12.5, fontFamily: MF, fill: '#222', lineHeight: 16}, s: {fontSize: 8, fontFamily: MF, fill: '#222', verticalAlign: 'top', lineHeight: 16}};
const RATE = '{n|Gain change rate [x 10}{s|−4}{n|/saccade]}';

const graphics = [
  {type: 'rect', shape: {x: 17, y: 50, width: 429, height: 283}, style: {fill: '#f1f1f1'}, z: -10, silent: true},
  {type: 'rect', shape: {x: 490, y: 35, width: 195, height: 258}, style: {fill: '#f6f6f6'}, z: -10, silent: true},
  {type: 'rect', shape: {x: 672, y: 32, width: 390, height: 268}, style: {fill: '#f4f4f4'}, z: -10, silent: true},
  // panel letters and titles
  T('A', 8, 27, 28, {align: 'left'}), T('Kojima et al', 282, 27, 24),
  T('B', 457, 25, 28, {align: 'left'}), T('Kojima et al', 580, 23, 24),
  T('E', 705, 27, 28, {align: 'left'}), T('Kojima et al', 894, 22, 24),
  T('C', 9, 343, 28, {align: 'left'}), T('Optimal', 281, 343, 25),
  T('D', 454, 343, 28, {align: 'left'}), T('Optimal', 588, 343, 25),
  T('F', 706, 338, 28, {align: 'left'}), T('Optimal', 986, 345, 25),
  // A texts
  T('Saccade number', 240, 318, 14, {font: HF, color: '#444'}),
  T('Gain', 37, 155, 13, {font: HF, color: '#444', rot: Math.PI / 2}),
  T('4.0', 268, 82, 16, {font: HF, color: '#333'}), T('6.9', 392, 78, 16, {font: HF, color: '#333'}),
  T('control', 154, 277, 14, {font: HF, color: '#333', align: 'left'}), T('test', 329, 277, 14, {font: HF, color: '#333', align: 'left'}),
  // B
  T(RATE, 488, 143, 14, {rot: Math.PI / 2, rich: SUP}),
  // C
  T('Saccade number', 225, 622, 14), T('Gain', 47, 498, 14, {rot: Math.PI / 2}),
  T('4.9', 233, 392, 24), T('6.4', 388, 392, 24),
  // D
  T(RATE, 486, 493, 12.5, {rot: Math.PI / 2, rich: SUP2}),
  // E
  T('Saccade number', 918, 282, 12, {font: HF, color: '#555'}),
  T('Gain', 712, 150, 12, {font: HF, color: '#555', rot: Math.PI / 2}),
  T('control', 773, 247, 12, {font: HF, color: '#444', align: 'left'}), T('test', 947, 247, 12, {font: HF, color: '#444', align: 'left'}),
  T('Dark', 908, 42, 11, {font: HF, color: '#555'}), T('0.08', 925, 193, 8, {font: HF, color: '#555'}),
  // F
  T('Saccade number', 930, 622, 14), T('Gain', 733, 478, 14, {rot: Math.PI / 2}),
  T('Dark', 937, 398, 24), T('0.05', 937, 512, 13)
];

chart.setOption({animation: false, backgroundColor: '#ffffff', grid: grids, xAxis: xAxes, yAxis: yAxes,
  series: series, graphic: {elements: graphics}});
</script></body></html>
